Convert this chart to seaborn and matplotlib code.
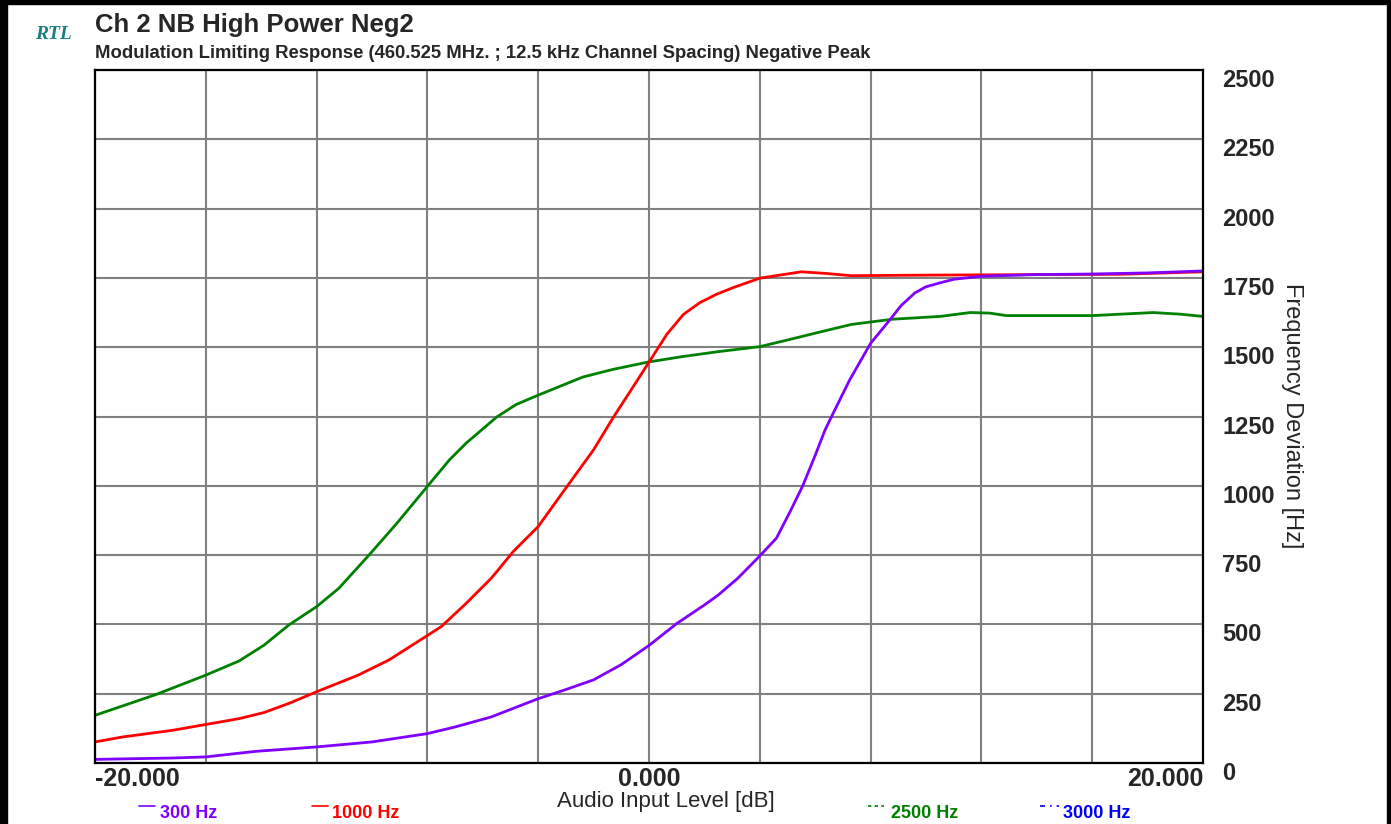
import numpy as np
import pandas as pd
import seaborn as sns
import matplotlib.pyplot as plt
import matplotlib.transforms as mtransforms
from matplotlib.lines import Line2D
from matplotlib.patches import Rectangle

# audio input level [dB] vs frequency deviation [Hz]
level_300 = [-20, -17.2, -16, -14.2, -12, -10, -8, -7, -5.7, -4, -3, -2, -1, 0,
             1, 2, 2.5, 3.2, 4, 4.6, 5.1, 5.55, 6, 6.35, 6.65, 7.24, 8, 8.65,
             9.1, 9.6, 10, 10.5, 11, 12, 14, 16, 18, 20]
dev_300 = [13, 18, 22, 42, 58, 76, 106, 130, 166, 232, 265, 300, 355, 424,
           503, 570, 606, 666, 747, 811, 908, 1000, 1110, 1200, 1262, 1381, 1514, 1593,
           1650, 1696, 1718, 1732, 1745, 1756, 1762, 1764, 1768, 1775]

level_1000 = [-20, -19, -17.2, -16, -14.8, -13.9, -13, -12, -10.5, -9.4, -8, -7.5,
              -6.6, -5.7, -5.4, -4.9, -4, -3, -2, -1.3, -0.6, 0, 0.64, 1.24, 1.84,
              2.44, 3.04, 4, 5.5, 6.4, 7.3, 10, 14, 17, 20]
dev_1000 = [76, 94, 118, 139, 160, 182, 215, 257, 317, 371, 460, 492,
            576, 666, 702, 763, 853, 992, 1130, 1245, 1353, 1446, 1546, 1618, 1661,
            1691, 1715, 1749, 1772, 1766, 1758, 1760, 1762, 1763, 1772]

level_2500 = [-20, -19, -17.8, -16, -14.8, -13.9, -13, -12, -11.2, -10.1, -9.1, -8,
              -7.2, -6.6, -5.5, -4.8, -4, -2.4, -1.3, 0, 1.2, 2.5, 4, 5, 6.1, 7.3,
              8.8, 10.5, 11.6, 12.3, 12.9, 16, 18.2, 19.2, 20]
dev_2500 = [172, 206, 247, 317, 368, 425, 498, 564, 630, 751, 865, 998,
            1094, 1154, 1248, 1293, 1327, 1392, 1420, 1447, 1466, 1484, 1502, 1526, 1553, 1582,
            1601, 1611, 1625, 1623, 1614, 1614, 1625, 1619, 1611]

x_ticks = [-20, -16, -12, -8, -4, 0, 4, 8, 12, 16, 20]
x_labels = ['-20.000', '', '', '', '', '0.000', '', '', '', '', '20.000']
y_ticks = [0, 250, 500, 750, 1000, 1250, 1500, 1750, 2000, 2250, 2500]

tones = ['2500 Hz', '1000 Hz', '300 Hz']
colors = {'300 Hz': '#8000ff', '1000 Hz': '#ff0000', '2500 Hz': '#008000'}

df = pd.concat([
    pd.DataFrame({'level': level_2500, 'dev': dev_2500, 'tone': '2500 Hz'}),
    pd.DataFrame({'level': level_1000, 'dev': dev_1000, 'tone': '1000 Hz'}),
    pd.DataFrame({'level': level_300, 'dev': dev_300, 'tone': '300 Hz'}),
])

sns.set_style("white")
plt.rcParams['font.family'] = ['Liberation Sans', 'DejaVu Sans']

W, H = 1391, 824
fig = plt.figure(figsize=(W / 100, H / 100), dpi=100)
ax = fig.add_axes([95 / W, 1 - 763 / H, 1108 / W, 693 / H])

sns.lineplot(data=df, x='level', y='dev', hue='tone', hue_order=tones,
             palette=colors, sort=False, estimator=None, linewidth=2.0,
             legend=False, ax=ax)

ax.set_xlim(-20, 20)
ax.set_ylim(0, 2500)
ax.set_xticks(x_ticks)
ax.set_xticklabels(x_labels, fontsize=18, fontweight='bold')
ax.set_yticks(y_ticks)
ax.set_yticklabels([str(v) for v in y_ticks], fontsize=17, fontweight='bold')
ax.yaxis.tick_right()
ax.tick_params(axis='both', length=0)
ax.tick_params(axis='x', pad=3)
ax.tick_params(axis='y', pad=14)
xl = ax.get_xticklabels()
xl[0].set_ha('left')
xl[-1].set_ha('right')
shift = mtransforms.ScaledTranslation(0, -8 / 100, fig.dpi_scale_trans)
for lab in ax.get_yticklabels():
    lab.set_transform(lab.get_transform() + shift)
ax.set_xlabel('')
ax.set_ylabel('')
ax.grid(True, color='#808080', linewidth=1.5)
ax.set_axisbelow(True)
for s in ax.spines.values():
    s.set_color('black')
    s.set_linewidth(1.6)

# header
fig.text(35 / W, 1 - 39 / H, 'RTL', color='#1a7f7f', fontsize=14,
         fontweight='bold', fontstyle='italic', family=['Liberation Serif', 'DejaVu Serif'])
fig.text(95 / W, 1 - 32 / H, 'Ch 2 NB High Power Neg2', fontsize=18.5,
         fontweight='bold', va='baseline')
fig.text(95 / W, 1 - 58 / H,
         'Modulation Limiting Response (460.525 MHz. ; 12.5 kHz Channel Spacing) Negative Peak',
         fontsize=13.3, fontweight='bold', va='baseline')

# axis titles
fig.text(666 / W, 1 - 807 / H, 'Audio Input Level [dB]', fontsize=16,
         ha='center', va='baseline')
fig.text(1292 / W, 1 - 416 / H, 'Frequency Deviation [Hz]', fontsize=17,
         rotation=270, ha='center', va='center')

# series key along the bottom
key = [('300 Hz', '#8000ff', '-', 139, 155, 160),
       ('1000 Hz', '#ff0000', '-', 312, 328, 332),
       ('2500 Hz', '#008000', (0, (2, 2)), 868, 884, 891),
       ('3000 Hz', '#0000ff', (0, (3, 3, 1, 3)), 1040, 1059, 1063)]
for name, col, ls, x0, x1, tx in key:
    fig.lines.append(Line2D([x0 / W, x1 / W], [1 - 806 / H, 1 - 806 / H],
                            transform=fig.transFigure, color=col,
                            linestyle=ls, linewidth=1.2))
    fig.text(tx / W, 1 - 818 / H, name, color=col, fontsize=13,
             fontweight='bold', va='baseline')

# window frame
for rx, ry, rw, rh in [(0, 0, 7, H), (0, 0, W, 4), (W - 4, 0, 4, H)]:
    fig.patches.append(Rectangle((rx / W, 1 - (ry + rh) / H), rw / W, rh / H,
                                 transform=fig.transFigure, color='black'))

fig.savefig('out.png', dpi=100)
